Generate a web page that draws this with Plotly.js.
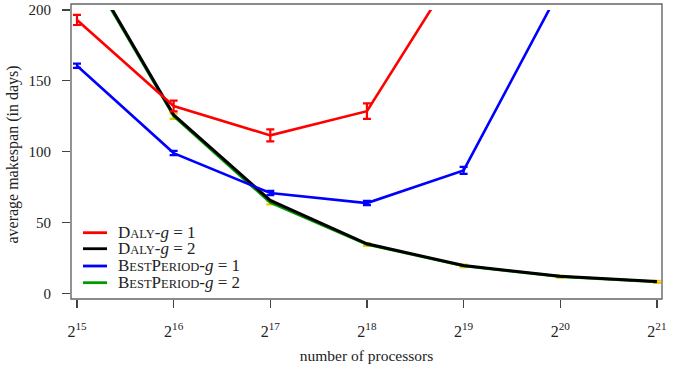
<!DOCTYPE html>
<html>
<head>
<meta charset="utf-8">
<script src="https://cdn.plot.ly/plotly-3.0.1.min.js"></script>
<style>html,body{margin:0;padding:0;background:#fff;}#chart{width:680px;height:367px;}</style>
</head>
<body>
<div id="chart"></div>
<script>
// number of processors
const processors = [32768, 65536, 131072, 262144, 524288, 1048576, 2097152];
const tickLabels = ["2<sup>15</sup>","2<sup>16</sup>","2<sup>17</sup>","2<sup>18</sup>","2<sup>19</sup>","2<sup>20</sup>","2<sup>21</sup>"];

// Daly g=1 (red)
const dalyG1 = [193.0, 132.2, 111.5, 128.6, 237.0];
const dalyG1Err = [3.6, 3.8, 4.2, 5.5, 0];
// Daly g=2 (black)
const dalyG2 = [243.0, 126.0, 65.6, 35.0, 19.6, 12.0, 8.3];
// BestPeriod g=1 (blue)
const bestG1 = [160.7, 99.0, 70.8, 63.7, 86.8, 215.0];
const bestG1Err = [1.5, 1.5, 1.5, 1.5, 2.5, 0];
// BestPeriod g=2 (green)
const bestG2 = [241.7, 125.0, 64.0, 34.5, 19.3, 11.8, 8.1];
const bestG2Err = [0, 1.8, 1.2, 1.0, 0.9, 0.8, 0.8];

const seriesColors = ['#ff0000', '#000000', '#0000ff', '#009900'];
const SERIF = 'Liberation Serif';

const smallCaps = s => '<span style="font-size:12.5px">' + s + '</span>';
const seriesNames = [
  'D' + smallCaps('ALY') + '-<i>g</i> = 1',
  'D' + smallCaps('ALY') + '-<i>g</i> = 2',
  'B' + smallCaps('EST') + 'P' + smallCaps('ERIOD') + '-<i>g</i> = 1',
  'B' + smallCaps('EST') + 'P' + smallCaps('ERIOD') + '-<i>g</i> = 2'
];

const plotTraces = [
  {x: processors, y: bestG2, name: seriesNames[3], mode: 'lines', line: {color: seriesColors[3], width: 2.6},
   error_y: {type: 'data', array: bestG2Err, color: '#f0c800', thickness: 2.2, width: 4}},
  {x: processors, y: dalyG2, name: seriesNames[1], mode: 'lines', line: {color: seriesColors[1], width: 3}},
  {x: processors.slice(0, bestG1.length), y: bestG1, name: seriesNames[2], mode: 'lines', line: {color: seriesColors[2], width: 2.6},
   error_y: {type: 'data', array: bestG1Err, color: seriesColors[2], thickness: 2.2, width: 4}},
  {x: processors.slice(0, dalyG1.length), y: dalyG1, name: seriesNames[0], mode: 'lines', line: {color: seriesColors[0], width: 2.6},
   error_y: {type: 'data', array: dalyG1Err, color: seriesColors[0], thickness: 2.2, width: 4}}
];

// compact legend drawn with shapes + annotations (rows closer than Plotly's legend allows)
const legendRowsY = [0.2294, 0.1740, 0.1142, 0.0564];
const plotShapes = [{type: 'rect', xref: 'paper', yref: 'paper', x0: 0, x1: 1, y0: 0, y1: 1.0208,
            line: {color: '#666', width: 1.4}, layer: 'above'}];
const plotAnnotations = [];
seriesNames.forEach((n, i) => {
  plotShapes.push({type: 'line', xref: 'paper', yref: 'paper', x0: 0.0203, x1: 0.0609,
               y0: legendRowsY[i], y1: legendRowsY[i], line: {color: seriesColors[i], width: 2.8}});
  plotAnnotations.push({xref: 'paper', yref: 'paper', x: 0.0761, y: legendRowsY[i], xanchor: 'left', yanchor: 'middle',
                    text: seriesNames[i], showarrow: false, font: {family: SERIF, size: 17, color: '#222'}});
});

const plotLayout = {
  width: 680, height: 367,
  margin: {l: 71, r: 18, t: 10, b: 68},
  showlegend: false,
  xaxis: {
    type: 'log', range: [4.4968, 6.3375],
    tickmode: 'array', tickvals: processors, ticktext: tickLabels,
    ticks: 'outside', ticklen: 8, tickwidth: 1.2, tickcolor: '#444',
    showgrid: false, zeroline: false, showline: false,
    ticklabelstandoff: 10,
    tickfont: {family: SERIF, size: 16, color: '#222'},
    title: {text: 'number of processors', font: {family: SERIF, size: 15.5, color: '#222'}, standoff: 10}
  },
  yaxis: {
    range: [-4.0, 200],
    tickmode: 'array', tickvals: [0, 50, 100, 150, 200],
    ticks: 'outside', ticklen: 8, tickwidth: 1.2, tickcolor: '#444',
    showgrid: false, zeroline: false, showline: false,
    ticklabelstandoff: 8,
    tickfont: {family: SERIF, size: 15, color: '#222'},
    title: {text: 'average makespan (in days)', font: {family: SERIF, size: 16, color: '#222'}, standoff: 5}
  },
  shapes: plotShapes,
  annotations: plotAnnotations
};

const drawChart = () => Plotly.newPlot('chart', plotTraces, plotLayout, {staticPlot: true});
drawChart();
// make sure the serif face is actually loaded, then redraw so text uses it
if (document.fonts && document.fonts.load) {
  Promise.all([
    document.fonts.load('16px "' + SERIF + '"'),
    document.fonts.load('italic 16px "' + SERIF + '"')
  ]).then(drawChart).catch(() => {});
}
</script>
</body>
</html>
